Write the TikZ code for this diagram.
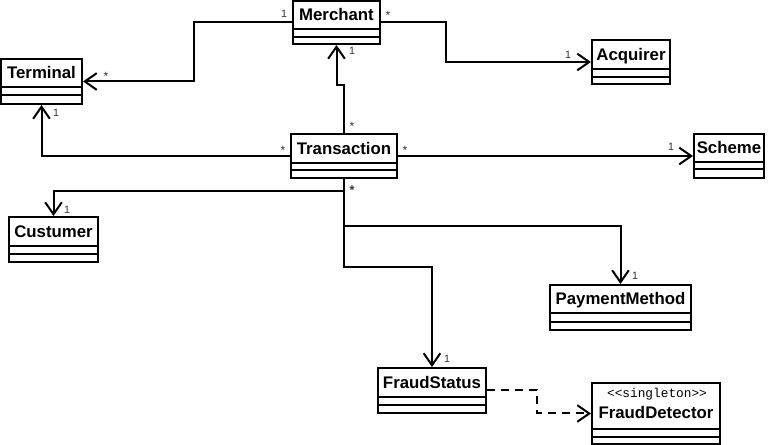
\documentclass[tikz,border=0pt]{standalone}
\usepackage{fontspec}
\setmainfont{Liberation Sans}
\newfontfamily\monof{Liberation Mono}
\usetikzlibrary{arrows.meta,fit}
\newcommand\umlcls[8]{%
  \coordinate (#1-a) at (#2,#3);
  \coordinate (#1-b) at (#4,#5);
  \node[cls, fit=(#1-a)(#1-b)] (#1) {};
  \draw (#2,#6) -- (#4,#6) (#2,#7) -- (#4,#7);
  \node[nm, anchor=base] (#1-t) at ({(#2+#4)/2},{(#3+#6)/2+6}) {#8};}
\begin{document}
\begin{tikzpicture}[x=0.75pt,y=-0.75pt, line width=1.5pt,
  cls/.style={draw, line width=1.5pt, inner sep=0pt},
  nm/.style={font=\bfseries\fontsize{12.6}{14}\selectfont, inner sep=0pt},
  mult/.style={font=\fontsize{8}{9}\selectfont, text=black!80, inner sep=0pt},
  star/.style={mult, font=\fontsize{9}{9}\selectfont, yshift=-2pt},
  assoc/.style={-{Straight Barb[length=9pt,width=12.5pt]}},
  dep/.style={assoc, dash pattern=on 6pt off 4.5pt}]
\useasboundingbox (0,0) rectangle (769,445);
\fill[white] (0,0) rectangle (769,445);

\umlcls{merchant}{293}{1}{380}{44}{29}{37}{Merchant}
\umlcls{terminal}{1}{59}{82}{104}{87}{95}{Terminal}
\umlcls{acquirer}{592}{40}{670}{84}{69}{77}{Acquirer}
\umlcls{transaction}{291}{134}{397}{178}{163}{170}{Transaction}
\umlcls{scheme}{694}{134}{764}{178}{162}{169}{Scheme}
\umlcls{custumer}{9}{217}{98}{262}{246}{254}{Custumer}
\umlcls{paymentmethod}{550}{285}{691}{330}{313}{322}{PaymentMethod}
\umlcls{fraudstatus}{378}{368}{486}{413}{397}{405}{FraudStatus}

% FraudDetector with stereotype
\coordinate (fd-a) at (592,383);
\coordinate (fd-b) at (720,444);
\node[cls, fit=(fd-a)(fd-b)] (frauddetector) {};
\draw (592,429) -- (720,429) (592,437) -- (720,437);
\node[font=\monof\fontsize{9.6}{11}\selectfont, inner sep=0pt] (fd-s) at (657,394) {<<singleton>>};
\node[nm, anchor=base] (fd-t) at (656,419) {FraudDetector};

% connectors
\draw[assoc] (merchant.west) -| ++(-98,30) |- (terminal.east);
\draw[assoc] (merchant.east) -| ++(65,20) |- (acquirer.west);
\draw[assoc] (transaction.north) -- ++(0,-48) -| (merchant.south);
\draw[assoc] (transaction.west) -| (terminal.south);
\draw[assoc] (transaction.east) -- (scheme.west);
\draw[assoc] (transaction.south) -- ++(0,12) -| (custumer.north);
\draw[assoc] (transaction.south) -- ++(0,47) -| (paymentmethod.north);
\draw[assoc] (transaction.south) -- ++(0,88) -| (fraudstatus.north);
\draw[dep] (fraudstatus.east) -- ++(50,0) |- (frauddetector.west);

% multiplicities
\node[mult] (m1) at (284,14) {1};
\node[star] (m2) at (106,74) {*};
\node[star] (m3) at (388,13) {*};
\node[mult] (m4) at (568,55) {1};
\node[mult] (m5) at (352,51) {1};
\node[star] (m6) at (352,124) {*};
\node[mult] (m7) at (56,113) {1};
\node[star] (m8) at (283,148) {*};
\node[star] (m9) at (405,148) {*};
\node[mult] (m10) at (671,147) {1};
\node[star, font=\bfseries\fontsize{9.5}{9}\selectfont] (m11) at (352,187) {*};
\node[mult] (m12) at (67,210) {1};
\node[mult] (m13) at (635,276) {1};
\node[mult] (m14) at (447,359) {1};
\end{tikzpicture}
\end{document}
